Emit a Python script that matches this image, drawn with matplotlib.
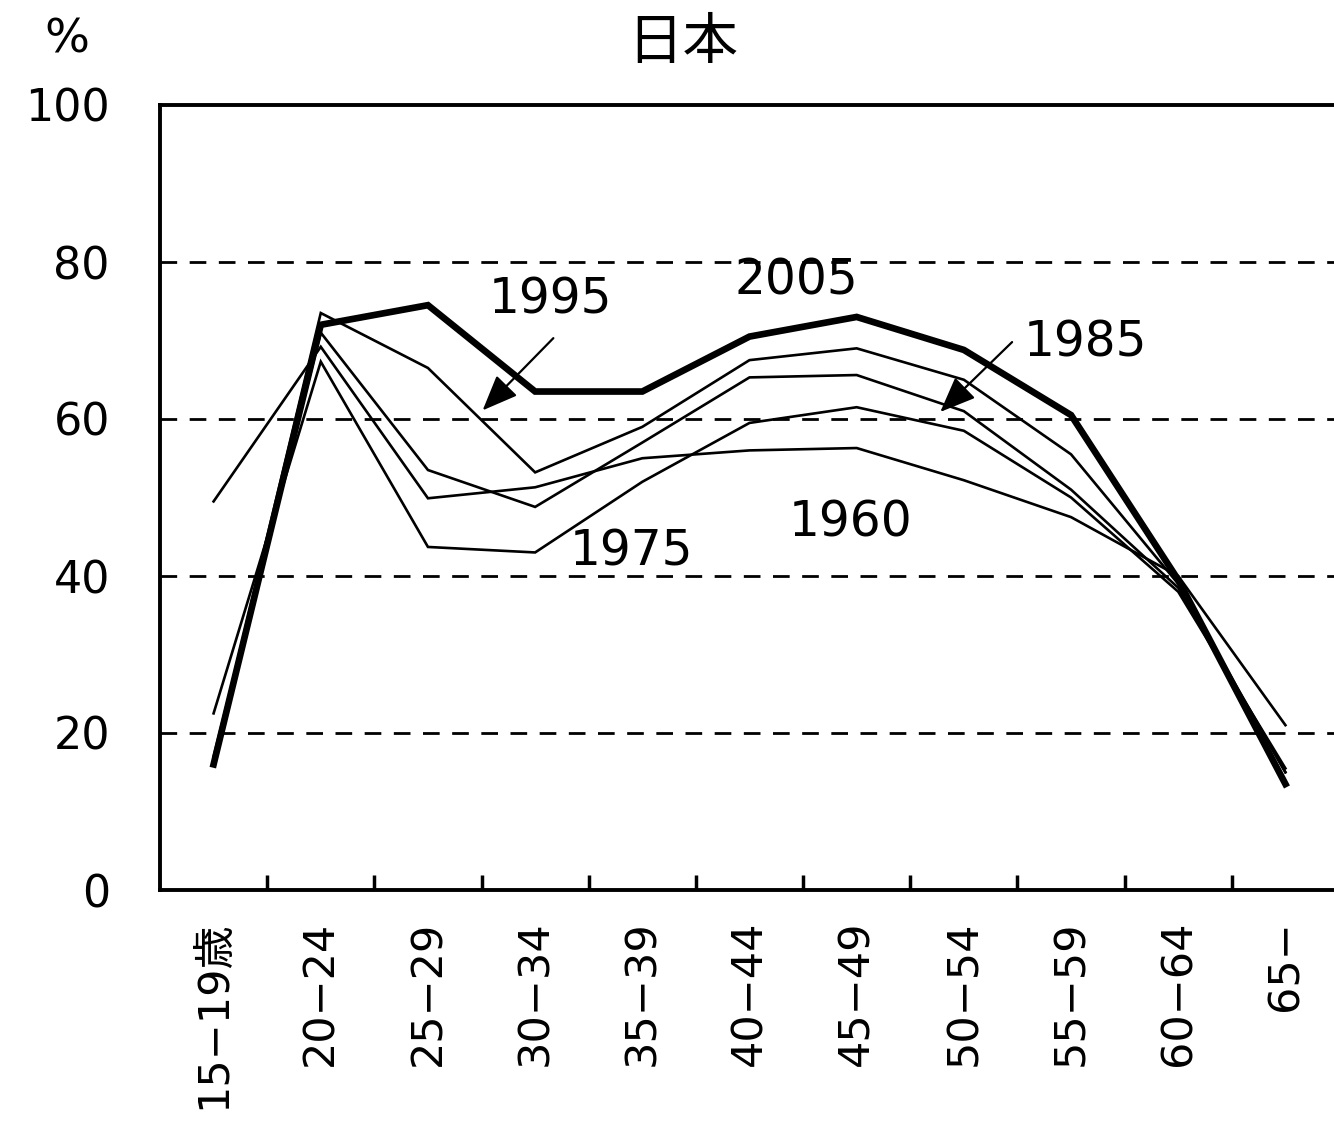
import matplotlib
matplotlib.use("Agg")
import matplotlib.pyplot as plt
import numpy as np

plt.rcParams['font.family'] = ['DejaVu Sans', 'Noto Sans CJK JP']

categories = ["15−19歳", "20−24", "25−29", "30−34", "35−39", "40−44",
              "45−49", "50−54", "55−59", "60−64", "65−"]
y2005 = [16.0, 72.0, 74.5, 63.5, 63.5, 70.5, 73.0, 68.8, 60.5, 39.5, 13.5]
y1995 = [16.5, 73.5, 66.5, 53.2, 59.0, 67.5, 69.0, 65.0, 55.5, 39.0, 15.0]
y1985 = [17.0, 71.0, 53.5, 48.8, 57.0, 65.3, 65.6, 61.0, 51.0, 38.5, 15.0]
y1975 = [22.5, 67.3, 43.7, 43.0, 52.0, 59.5, 61.5, 58.5, 50.0, 38.0, 15.5]
y1960 = [49.5, 69.2, 49.9, 51.3, 55.0, 56.0, 56.3, 52.2, 47.5, 40.0, 21.0]
yticks = [0, 20, 40, 60, 80, 100]

W, H = 1334, 1131
fig = plt.figure(figsize=(W / 100, H / 100), dpi=100)
left, right, bottom, top = 160, 1339, 890, 105
ax = fig.add_axes([left / W, 1 - bottom / H, (right - left) / W, (bottom - top) / H])

x = np.arange(len(categories))
thin = dict(color='black', lw=1.9, solid_joinstyle='miter')
ax.plot(x, y1960, **thin)
ax.plot(x, y1975, **thin)
ax.plot(x, y1985, **thin)
ax.plot(x, y1995, **thin)
ax.plot(x, y2005, color='black', lw=4.8, solid_joinstyle='miter')

ax.set_xlim(-0.5, len(categories) - 0.5)
ax.set_ylim(0, 100)

for v in [20, 40, 60, 80]:
    ax.axhline(v, color='black', lw=2.0, ls=(0, (6, 4.5)), zorder=0)

ax.set_yticks(yticks)
ax.set_yticklabels([str(v) for v in yticks], fontsize=32)
ax.tick_params(axis='y', length=0, pad=36)

ax.set_xticks(np.arange(len(categories) - 1) + 0.5)
ax.set_xticklabels([])
ax.tick_params(axis='x', which='major', direction='in', length=11, width=2.5)
ax.set_xticks(x, minor=True)
ax.set_xticklabels(categories, minor=True, rotation=90, fontsize=31, va='top', ha='center')
ax.tick_params(axis='x', which='minor', length=0, pad=22)

for s in ['left', 'bottom', 'top']:
    ax.spines[s].set_linewidth(2.8)
ax.spines['right'].set_visible(False)

fs = 35
arrowprops = dict(arrowstyle='-|>,head_length=1.1,head_width=0.45', color='black', lw=1.6,
                  shrinkA=0, shrinkB=0, mutation_scale=20)
ax.text(3.14, 75.2, "1995", fontsize=fs, ha='center', va='center')
ax.annotate("", xy=(2.51, 61.1), xytext=(3.17, 70.3), arrowprops=arrowprops)
ax.text(5.44, 77.7, "2005", fontsize=fs, ha='center', va='center')
ax.text(8.13, 69.7, "1985", fontsize=fs, ha='center', va='center')
ax.annotate("", xy=(6.78, 60.9), xytext=(7.45, 69.8), arrowprops=arrowprops)
ax.text(3.90, 43.1, "1975", fontsize=fs, ha='center', va='center')
ax.text(5.94, 46.8, "1960", fontsize=fs, ha='center', va='center')

fig.text(67 / W, 1 - 40 / H, "%", fontsize=34, ha='center', va='center')
fig.text(683 / W, 1 - 43 / H, "日本", fontsize=40, ha='center', va='center',
         family=['Noto Sans CJK JP', 'DejaVu Sans'])

fig.savefig("out.png", dpi=100, facecolor='white')
